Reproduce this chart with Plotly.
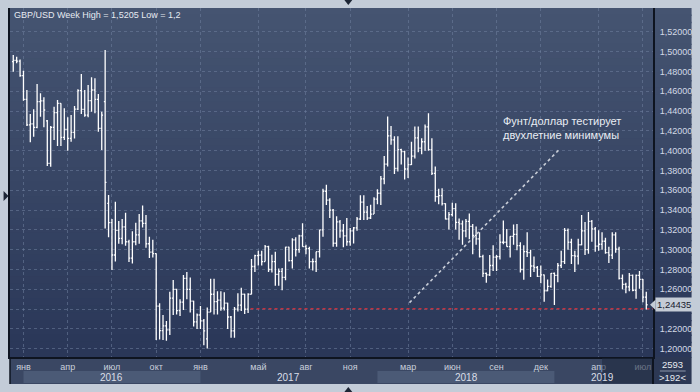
import plotly.graph_objects as go
import pandas as pd

# ---------------- data (weekly GBP/USD bars) ----------------
opens = [
    1.4899, 1.4911, 1.4905, 1.4757, 1.4518, 1.4260, 1.4270, 1.4236, 1.4495, 1.4502,
    1.4300, 1.3872, 1.4236, 1.4384, 1.4478, 1.4135, 1.4215, 1.4124, 1.4185, 1.4420,
    1.4606, 1.4418, 1.4360, 1.4505, 1.4613, 1.4519, 1.4226, 1.4495, 1.3468, 1.3273,
    1.2946, 1.3195, 1.3115, 1.3230, 1.3080, 1.2915, 1.3080, 1.3150, 1.3290, 1.3265,
    1.3060, 1.2975, 1.2960, 1.2430, 1.2182, 1.2230, 1.2190, 1.2510, 1.2600, 1.2385,
    1.2470, 1.2710, 1.2600, 1.2480, 1.2270, 1.2340, 1.2280, 1.2100, 1.2370, 1.2550,
    1.2475, 1.2490, 1.2410, 1.2460, 1.2320, 1.2180, 1.2400, 1.2440, 1.2550, 1.2400,
    1.2550, 1.2830, 1.2940, 1.2945, 1.2880, 1.3030, 1.2800, 1.2880, 1.2750, 1.2780,
    1.2720, 1.3025, 1.2890, 1.3100, 1.3000, 1.3140, 1.3030, 1.3010, 1.2880, 1.2880,
    1.2980, 1.3200, 1.3590, 1.3500, 1.3400, 1.3065, 1.3280, 1.3190, 1.3140, 1.3080,
    1.3190, 1.3220, 1.3310, 1.3480, 1.3380, 1.3320, 1.3360, 1.3510, 1.3570, 1.3715,
    1.3865, 1.4150, 1.4110, 1.3820, 1.4010, 1.3990, 1.3815, 1.3860, 1.3945, 1.4130,
    1.4025, 1.4090, 1.4240, 1.4010, 1.3770, 1.3535, 1.3545, 1.3465, 1.3310, 1.3355,
    1.3415, 1.3275, 1.3260, 1.3190, 1.3285, 1.3235, 1.3145, 1.3110, 1.2930, 1.2760,
    1.2745, 1.2840, 1.2925, 1.2930, 1.3075, 1.3075, 1.3030, 1.3135, 1.3155, 1.3040,
    1.2800, 1.2980, 1.2970, 1.2835, 1.2820, 1.2730, 1.2745, 1.2585, 1.2630, 1.2760,
    1.2740, 1.2840, 1.2880, 1.3195, 1.3075, 1.2940, 1.2935, 1.3050, 1.3190, 1.3000,
    1.3285, 1.3210, 1.3035, 1.3055, 1.3085, 1.2970, 1.2945, 1.3150, 1.3005, 1.2710,
    1.2650, 1.2625, 1.2740, 1.2590, 1.2740, 1.2700, 1.2520,
]
highs = [
    1.4966, 1.4949, 1.4920, 1.4808, 1.4613, 1.4371, 1.4418, 1.4674, 1.4579, 1.4539,
    1.4310, 1.4249, 1.4444, 1.4512, 1.4480, 1.4428, 1.4337, 1.4360, 1.4451, 1.4620,
    1.4774, 1.4613, 1.4663, 1.4741, 1.4731, 1.4572, 1.4394, 1.5017, 1.3552, 1.3310,
    1.3485, 1.3290, 1.3310, 1.3372, 1.3100, 1.3186, 1.3273, 1.3360, 1.3445, 1.3350,
    1.3130, 1.3100, 1.2965, 1.2458, 1.2340, 1.2280, 1.2576, 1.2694, 1.2605, 1.2500,
    1.2745, 1.2775, 1.2720, 1.2485, 1.2355, 1.2432, 1.2300, 1.2417, 1.2706, 1.2706,
    1.2580, 1.2580, 1.2570, 1.2465, 1.2330, 1.2420, 1.2560, 1.2615, 1.2555, 1.2560,
    1.2905, 1.2950, 1.2990, 1.2990, 1.3048, 1.3040, 1.2950, 1.2980, 1.2810, 1.2815,
    1.3030, 1.3030, 1.3115, 1.3125, 1.3150, 1.3268, 1.3050, 1.3030, 1.2910, 1.2980,
    1.3200, 1.3615, 1.3657, 1.3520, 1.3410, 1.3338, 1.3300, 1.3260, 1.3320, 1.3220,
    1.3230, 1.3330, 1.3550, 1.3550, 1.3440, 1.3455, 1.3530, 1.3610, 1.3745, 1.3945,
    1.4345, 1.4250, 1.4145, 1.4145, 1.4020, 1.4000, 1.3930, 1.4090, 1.4245, 1.4245,
    1.4125, 1.4265, 1.4377, 1.4125, 1.3840, 1.3615, 1.3620, 1.3470, 1.3380, 1.3475,
    1.3470, 1.3315, 1.3295, 1.3310, 1.3365, 1.3260, 1.3235, 1.3175, 1.2950, 1.2770,
    1.2945, 1.3045, 1.2945, 1.3155, 1.3295, 1.3210, 1.3135, 1.3255, 1.3260, 1.3075,
    1.3045, 1.3175, 1.3000, 1.2930, 1.2835, 1.2840, 1.2750, 1.2700, 1.2765, 1.2770,
    1.2865, 1.2990, 1.3220, 1.3215, 1.3110, 1.2990, 1.3110, 1.3350, 1.3280, 1.3380,
    1.3300, 1.3230, 1.3195, 1.3175, 1.3120, 1.3030, 1.3175, 1.3175, 1.3030, 1.2750,
    1.2665, 1.2765, 1.2750, 1.2750, 1.2785, 1.2705, 1.2575,
]
lows = [
    1.4798, 1.4882, 1.4747, 1.4505, 1.4249, 1.4084, 1.4141, 1.4226, 1.4343, 1.4236,
    1.3845, 1.3838, 1.4108, 1.4047, 1.4047, 1.4108, 1.4000, 1.4091, 1.4124, 1.4411,
    1.4371, 1.4343, 1.4337, 1.4394, 1.4377, 1.4192, 1.4007, 1.3215, 1.3125, 1.2795,
    1.2880, 1.3060, 1.3055, 1.3040, 1.2875, 1.2860, 1.3045, 1.3060, 1.3225, 1.3020,
    1.2915, 1.2920, 1.2088, 1.2094, 1.2088, 1.2081, 1.2138, 1.2340, 1.2345, 1.2330,
    1.2390, 1.2500, 1.2365, 1.2225, 1.2200, 1.2200, 1.2035, 1.2003, 1.2370, 1.2345,
    1.2345, 1.2383, 1.2385, 1.2200, 1.2110, 1.2110, 1.2375, 1.2380, 1.2350, 1.2360,
    1.2550, 1.2775, 1.2840, 1.2840, 1.2880, 1.2775, 1.2770, 1.2636, 1.2635, 1.2590,
    1.2690, 1.2880, 1.2810, 1.2930, 1.2970, 1.3030, 1.2955, 1.2810, 1.2790, 1.2775,
    1.2920, 1.3130, 1.3450, 1.3320, 1.3030, 1.3030, 1.3120, 1.3025, 1.3040, 1.3040,
    1.3062, 1.3190, 1.3300, 1.3300, 1.3300, 1.3310, 1.3360, 1.3460, 1.3450, 1.3660,
    1.3840, 1.4060, 1.3765, 1.3790, 1.3860, 1.3710, 1.3725, 1.3855, 1.3920, 1.3985,
    1.3965, 1.4000, 1.4000, 1.3755, 1.3485, 1.3460, 1.3445, 1.3305, 1.3205, 1.3335,
    1.3205, 1.3100, 1.3050, 1.3125, 1.3105, 1.2955, 1.3050, 1.2920, 1.2725, 1.2665,
    1.2735, 1.2785, 1.2785, 1.2900, 1.3055, 1.3030, 1.2920, 1.3050, 1.2995, 1.2770,
    1.2695, 1.2925, 1.2725, 1.2775, 1.2725, 1.2660, 1.2475, 1.2580, 1.2615, 1.2441,
    1.2670, 1.2815, 1.2855, 1.3000, 1.2855, 1.2775, 1.2850, 1.3045, 1.2945, 1.2960,
    1.3080, 1.2980, 1.2990, 1.3000, 1.2960, 1.2865, 1.2905, 1.2970, 1.2700, 1.2600,
    1.2560, 1.2580, 1.2580, 1.2505, 1.2605, 1.2470, 1.2395,
]
closes = [
    1.4911, 1.4905, 1.4757, 1.4518, 1.4260, 1.4270, 1.4236, 1.4495, 1.4502, 1.4411,
    1.3872, 1.4236, 1.4384, 1.4478, 1.4135, 1.4215, 1.4124, 1.4185, 1.4420, 1.4606,
    1.4418, 1.4360, 1.4505, 1.4613, 1.4519, 1.4226, 1.4360, 1.3680, 1.3273, 1.2946,
    1.3195, 1.3115, 1.3230, 1.3080, 1.2915, 1.3080, 1.3150, 1.3290, 1.3265, 1.3060,
    1.2975, 1.2960, 1.2430, 1.2182, 1.2230, 1.2190, 1.2510, 1.2600, 1.2385, 1.2470,
    1.2710, 1.2600, 1.2480, 1.2270, 1.2340, 1.2280, 1.2180, 1.2370, 1.2550, 1.2475,
    1.2490, 1.2410, 1.2460, 1.2320, 1.2180, 1.2400, 1.2440, 1.2550, 1.2400, 1.2550,
    1.2830, 1.2940, 1.2945, 1.2880, 1.3030, 1.2800, 1.2880, 1.2750, 1.2780, 1.2720,
    1.3025, 1.2890, 1.3100, 1.3000, 1.3140, 1.3030, 1.3010, 1.2880, 1.2880, 1.2980,
    1.3200, 1.3590, 1.3500, 1.3400, 1.3065, 1.3280, 1.3190, 1.3140, 1.3080, 1.3190,
    1.3220, 1.3310, 1.3480, 1.3380, 1.3320, 1.3360, 1.3510, 1.3570, 1.3715, 1.3865,
    1.4150, 1.4110, 1.3820, 1.4010, 1.3990, 1.3815, 1.3860, 1.3945, 1.4130, 1.4025,
    1.4090, 1.4240, 1.4010, 1.3770, 1.3535, 1.3545, 1.3465, 1.3310, 1.3355, 1.3415,
    1.3275, 1.3260, 1.3190, 1.3285, 1.3235, 1.3145, 1.3110, 1.2930, 1.2760, 1.2745,
    1.2840, 1.2925, 1.2930, 1.3075, 1.3075, 1.3030, 1.3135, 1.3155, 1.3040, 1.2800,
    1.2980, 1.2970, 1.2835, 1.2820, 1.2730, 1.2745, 1.2585, 1.2630, 1.2760, 1.2740,
    1.2840, 1.2880, 1.3195, 1.3075, 1.2940, 1.2935, 1.3050, 1.3190, 1.3000, 1.3285,
    1.3210, 1.3035, 1.3055, 1.3085, 1.2970, 1.2945, 1.3150, 1.3005, 1.2710, 1.2650,
    1.2625, 1.2740, 1.2590, 1.2740, 1.2700, 1.2520, 1.24435,
]
first_week = "2015-12-14"
dates = pd.date_range(first_week, periods=len(closes), freq="7D")

month_tick_dates = ["2016-01-04", "2016-04-04", "2016-07-04", "2016-10-03",
                    "2017-01-02", "2017-05-01", "2017-08-07", "2017-11-06",
                    "2018-03-05", "2018-06-04", "2018-09-03", "2018-12-03",
                    "2019-04-01", "2019-07-01"]
month_tick_labels = ["янв", "апр", "июл", "окт", "янв", "май", "авг", "ноя",
                     "мар", "июн", "сен", "дек", "апр", "июл"]
year_labels = ["2016", "2017", "2018", "2019"]
year_label_dates = ["2016-07-03", "2017-07-03", "2018-07-03", "2019-04-08"]
year_band_spans = [("2016-01-04", "2017-01-02"), ("2018-01-01", "2018-12-31")]
y_tick_values = [1.20, 1.22, 1.24, 1.26, 1.28, 1.30, 1.32, 1.34, 1.36,
                 1.38, 1.40, 1.42, 1.44, 1.46, 1.48, 1.50, 1.52]

title_text = "GBP/USD Week High = 1,5205 Low = 1,2"
note_text = "Фунт/доллар тестирует<br>двухлетние минимумы"
last_price = 1.24435
last_price_text = "1,24435"
support_level = 1.2404
support_start = "2017-04-15"
trend_start = ("2018-03-08", 1.2465)
trend_end = ("2019-01-09", 1.4007)
note_anchor = ("2018-09-13", 1.4381)
bars_total_text = "2593"
bars_visible_text = ">192<"

x_range = ["2015-12-07 07:00", "2019-07-21 19:00"]
y_range = [1.1916, 1.5441]

# y tick texts with comma decimals; the one hidden under the price box is left blank
y_tick_text = [("%.5f" % v).replace(".", ",") if abs(v - last_price) > 0.01 else "" for v in y_tick_values]

# ---------------- figure ----------------
W, H = 700, 392
ML, MR, MT, MB = 8, 42, 8, 35
pw, ph = W - ML - MR, H - MT - MB


def px_x(px):
    return (px - ML) / pw


def px_y(py):
    return (H - MB - py) / ph


fig = go.Figure()
fig.add_trace(go.Ohlc(
    x=dates, open=opens, high=highs, low=lows, close=closes,
    increasing=dict(line=dict(color="#ffffff", width=1.3)),
    decreasing=dict(line=dict(color="#ffffff", width=1.3)),
    tickwidth=0.38, showlegend=False, hoverinfo="skip",
))

shapes = []
# vertical gradient background for plot + right price panel
top_c = (69, 84, 113)
bot_c = (42, 55, 88)
nb = 48
panel_right = px_x(697)
for k in range(nb):
    t = k / (nb - 1)
    c = tuple(round(top_c[j] + (bot_c[j] - top_c[j]) * t) for j in range(3))
    y1 = 1 - k / nb
    y0 = 1 - (k + 1) / nb
    shapes.append(dict(type="rect", xref="paper", yref="paper", x0=0, x1=panel_right,
                       y0=y0 - 0.002, y1=y1 + 0.002 if k else y1, line_width=0,
                       fillcolor="rgb(%d,%d,%d)" % c, layer="below"))
# bottom time strip
strip_bottom = px_y(384)
shapes.append(dict(type="rect", xref="paper", yref="paper", x0=0, x1=1, y0=strip_bottom, y1=0,
                   line_width=0, fillcolor="#3a4763", layer="below"))
shapes.append(dict(type="rect", xref="paper", yref="paper", x0=1, x1=panel_right, y0=strip_bottom, y1=0,
                   line_width=0, fillcolor="#2c3854", layer="below"))
for a, b in year_band_spans:
    shapes.append(dict(type="rect", xref="x", yref="paper", x0=a, x1=b,
                       y0=px_y(383), y1=px_y(371), line_width=0,
                       fillcolor="#4b5a76", layer="below"))
# darker overlay on the last part of the strip
shapes.append(dict(type="rect", xref="x", yref="paper", x0=year_label_dates[3], x1=x_range[1],
                   y0=px_y(383.5), y1=px_y(358), line_width=0,
                   fillcolor="rgba(28,38,60,0.55)", layer="above"))
# vertical dividers through strip
shapes.append(dict(type="line", xref="paper", yref="paper", x0=1, x1=1, y0=strip_bottom, y1=0,
                   line=dict(color="#0e1420", width=2)))
shapes.append(dict(type="line", xref="paper", yref="paper", x0=0, x1=0, y0=strip_bottom, y1=0,
                   line=dict(color="#0e1420", width=1.5)))
# divider in the corner cell
shapes.append(dict(type="line", xref="paper", yref="paper", x0=px_x(665), x1=px_x(691),
                   y0=px_y(371), y1=px_y(371), line=dict(color="#8c96aa", width=1)))
# support line (red dotted)
shapes.append(dict(type="line", xref="x", yref="y", x0=support_start, x1=x_range[1],
                   y0=support_level, y1=support_level,
                   line=dict(color="#c2313f", width=1.5, dash="dot"), layer="between"))
# dotted trend line
shapes.append(dict(type="line", xref="x", yref="y", x0=trend_start[0], y0=trend_start[1],
                   x1=trend_end[0], y1=trend_end[1],
                   line=dict(color="#c9ced8", width=1.6, dash="dot"), layer="above"))
# price marker arrow
dy = 0.0052
shapes.append(dict(type="path", xref="paper", yref="y",
                   path="M %f,%f L %f,%f L %f,%f Z" % (px_x(655), last_price, px_x(660.5), last_price + dy,
                                                       px_x(660.5), last_price - dy),
                   fillcolor="#c5ccd6", line_width=0))
# frame triangles
tri_col = "#1c2535"
shapes.append(dict(type="path", xref="paper", yref="paper",
                   path="M %f,%f L %f,%f L %f,%f Z" % (px_x(346), px_y(0), px_x(354), px_y(0), px_x(350), px_y(5)),
                   fillcolor=tri_col, line_width=0))
shapes.append(dict(type="path", xref="paper", yref="paper",
                   path="M %f,%f L %f,%f L %f,%f Z" % (px_x(346), px_y(392), px_x(354), px_y(392), px_x(350), px_y(387)),
                   fillcolor=tri_col, line_width=0))
shapes.append(dict(type="path", xref="paper", yref="paper",
                   path="M %f,%f L %f,%f L %f,%f Z" % (px_x(1.5), px_y(191), px_x(1.5), px_y(201), px_x(6.5), px_y(196)),
                   fillcolor=tri_col, line_width=0))

FONT = "Liberation Sans, Arial, sans-serif"
annotations = [
    dict(text=title_text, xref="paper", yref="paper", x=px_x(10), y=px_y(15),
         xanchor="left", yanchor="middle", showarrow=False,
         font=dict(family=FONT, size=9, color="#e6eaf1")),
    dict(text=note_text, xref="x", yref="y", x=note_anchor[0], y=note_anchor[1],
         xanchor="left", yanchor="top", align="left", showarrow=False,
         font=dict(family=FONT, size=11, color="#e9edf4")),
    dict(text=last_price_text, xref="paper", yref="y", x=px_x(660), y=last_price,
         xanchor="left", yanchor="middle", showarrow=False, bgcolor="#c5ccd6", borderpad=1,
         font=dict(family=FONT, size=9.5, color="#18202e")),
    dict(text=bars_total_text, xref="paper", yref="paper", x=px_x(678), y=px_y(364),
         xanchor="center", yanchor="middle", showarrow=False,
         font=dict(family=FONT, size=9.5, color="#e6eaf1")),
    dict(text=bars_visible_text, xref="paper", yref="paper", x=px_x(678), y=px_y(377),
         xanchor="center", yanchor="middle", showarrow=False,
         font=dict(family=FONT, size=9.5, color="#e6eaf1")),
]
for lab, d in zip(year_labels, year_label_dates):
    annotations.append(dict(text=lab, xref="x", yref="paper", x=d, y=px_y(377),
                            xanchor="center", yanchor="middle", showarrow=False,
                            font=dict(family=FONT, size=10, color="#d9dee8")))

grid_col = "rgba(112,127,158,0.55)"
fig.update_layout(
    width=W, height=H,
    margin=dict(l=ML, r=MR, t=MT, b=MB, pad=0),
    paper_bgcolor="#c3ccd8",
    plot_bgcolor="rgba(0,0,0,0)",
    separators=", ",
    showlegend=False,
    shapes=shapes,
    annotations=annotations,
    xaxis=dict(
        type="date", range=x_range, rangeslider=dict(visible=False),
        tickvals=month_tick_dates, ticktext=month_tick_labels,
        tickfont=dict(family=FONT, size=9, color="#c9d0dc"),
        ticks="", ticklabelstandoff=0,
        showgrid=True, gridcolor=grid_col, gridwidth=1, griddash="3px,3px",
        showline=True, linecolor="#0e1420", linewidth=2,
        zeroline=False, fixedrange=True,
    ),
    yaxis=dict(
        side="right", range=y_range, tickvals=y_tick_values, ticktext=y_tick_text,
        tickfont=dict(family=FONT, size=9, color="#d3dae6"),
        ticks="", ticklabelstandoff=3,
        showgrid=True, gridcolor=grid_col, gridwidth=1, griddash="3px,3px",
        showline=True, linecolor="#0e1420", linewidth=2, mirror=True,
        zeroline=False, fixedrange=True,
    ),
)

fig.write_html("out.html", config={"displayModeBar": False},
               post_script="document.body.style.margin='0';document.body.style.overflow='hidden';")
